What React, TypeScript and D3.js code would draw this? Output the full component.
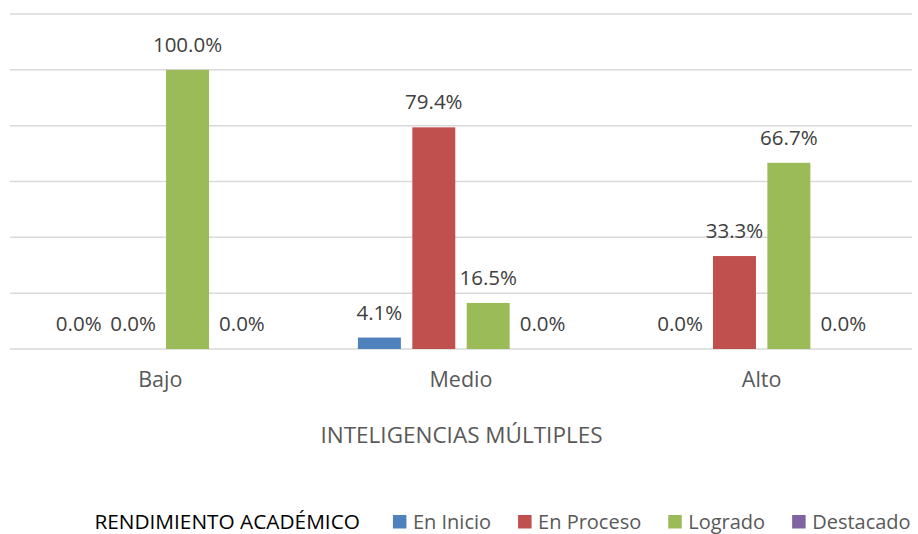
import React, { useRef, useEffect } from "react";
import * as d3 from "d3";

const categories = ["Bajo", "Medio", "Alto"];
const seriesNames = ["En Inicio", "En Proceso", "Logrado", "Destacado"];
const seriesColors = ["#4F81BD", "#C0504D", "#9BBB59", "#8064A2"];
// values per series, in order Bajo, Medio, Alto
const enInicio = [0, 0.041, 0];
const enProceso = [0, 0.794, 0.333];
const logrado = [1, 0.165, 0.667];
const destacado = [0, 0, 0];
const yTicks = [0, 0.2, 0.4, 0.6, 0.8, 1.0, 1.2];

const axisTitle = "INTELIGENCIAS MÚLTIPLES";
const legendTitle = "RENDIMIENTO ACADÉMICO";

const FONT = "'Open Sans', sans-serif";

function App() {
  const svgRef = useRef<SVGSVGElement>(null);

  const width = 918;
  const height = 534;

  useEffect(() => {
    const svg = d3.select(svgRef.current);
    svg.selectAll("*").remove();

    const seriesValues = [enInicio, enProceso, logrado, destacado];

    // Scales
    const xScale = d3.scaleBand().domain(categories).range([10, 912]).padding(0);
    const inner = d3
      .scaleBand()
      .domain(seriesNames)
      .range([-108.8, 108.8])
      .paddingInner(0.21)
      .paddingOuter(0.105);
    const yScale = d3.scaleLinear().domain([0, 1.2]).range([349, 14]);

    // Gridlines
    svg
      .append("g")
      .selectAll("line")
      .data(yTicks)
      .join("line")
      .attr("x1", 10)
      .attr("x2", 912)
      .attr("y1", (d) => yScale(d))
      .attr("y2", (d) => yScale(d))
      .attr("stroke", "#D9D9D9")
      .attr("stroke-width", 1.5);

    // Bars + labels
    seriesNames.forEach((name, si) => {
      const rows = categories.map((c, ci) => ({ c, v: seriesValues[si][ci] }));
      const g = svg.append("g");
      g.selectAll("rect")
        .data(rows)
        .join("rect")
        .attr("x", (d) => xScale(d.c)! + xScale.bandwidth() / 2 + inner(name)!)
        .attr("y", (d) => yScale(d.v))
        .attr("width", inner.bandwidth())
        .attr("height", (d) => yScale(0) - yScale(d.v))
        .attr("fill", seriesColors[si]);
      g.selectAll("text")
        .data(rows)
        .join("text")
        .attr(
          "x",
          (d) => xScale(d.c)! + xScale.bandwidth() / 2 + inner(name)! + inner.bandwidth() / 2
        )
        .attr("y", (d) => yScale(d.v) - 18)
        .attr("text-anchor", "middle")
        .attr("font-family", FONT)
        .attr("font-size", 20.5)
        .attr("fill", "#404040")
        .text((d) => `${(d.v * 100).toFixed(1)}%`);
    });

    // Category labels
    svg
      .append("g")
      .selectAll("text")
      .data(categories)
      .join("text")
      .attr("x", (d) => xScale(d)! + xScale.bandwidth() / 2)
      .attr("y", 387)
      .attr("text-anchor", "middle")
      .attr("font-family", FONT)
      .attr("font-size", 21.5)
      .attr("fill", "#595959")
      .text((d) => d);

    // Axis title
    svg
      .append("text")
      .attr("x", 461.5)
      .attr("y", 443)
      .attr("text-anchor", "middle")
      .attr("font-family", FONT)
      .attr("font-size", 22.5)
      .attr("fill", "#595959")
      .text(axisTitle);

    // Legend, laid out from measured text widths and centred
    const legend = svg.append("g");
    const lt = legend
      .append("text")
      .attr("x", 0)
      .attr("y", 529)
      .attr("font-family", FONT)
      .attr("font-size", 20.8)
      .attr("fill", "#000000")
      .text(legendTitle);
    let x = (lt.node() as SVGTextElement).getComputedTextLength() + 33;
    seriesNames.forEach((name, i) => {
      legend
        .append("rect")
        .attr("x", x)
        .attr("y", 515)
        .attr("width", 13.5)
        .attr("height", 13.5)
        .attr("fill", seriesColors[i]);
      const t = legend
        .append("text")
        .attr("x", x + 20)
        .attr("y", 529)
        .attr("font-family", FONT)
        .attr("font-size", 20)
        .attr("fill", "#595959")
        .text(name);
      x += 20 + (t.node() as SVGTextElement).getComputedTextLength() + 27;
    });
    const total = x - 27;
    legend.attr("transform", `translate(${502.5 - total / 2},0)`);
  }, []);

  return (
    <svg
      ref={svgRef}
      width={width}
      height={height}
      style={{ position: "absolute", left: 0, top: 0, background: "#fff" }}
    />
  );
}

export default App;
